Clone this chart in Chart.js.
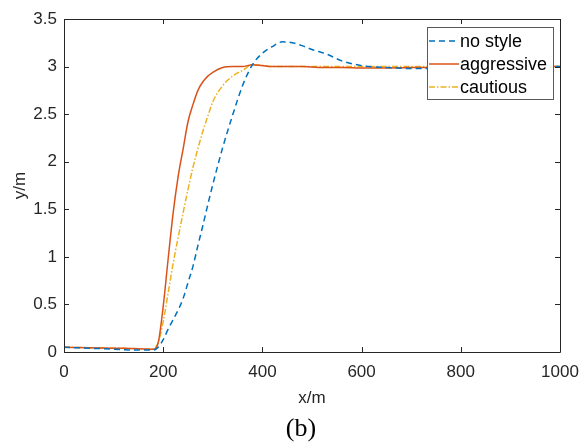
<!DOCTYPE html>
<html>
<head>
<meta charset="utf-8">
<script src="https://cdn.jsdelivr.net/npm/chart.js@4"></script>
<style>
  html, body { margin: 0; padding: 0; background: #fff; }
</style>
</head>
<body>
<canvas id="chartContainer" width="582" height="443"></canvas>
<script>
// x positions (m) shared by all three runs
var xs = [0, 50, 100, 150, 180, 190, 200, 210, 220, 230, 240, 250, 260, 270, 280, 290, 300, 320, 340, 360, 380, 400, 420, 440, 460, 480, 500, 530, 560, 600, 650, 700, 750, 800, 850, 900, 950, 1000];

var noStyle    = [0.05, 0.04, 0.03, 0.02, 0.02, 0.05, 0.13, 0.24, 0.34, 0.44, 0.56, 0.73, 0.9, 1.12, 1.33, 1.55, 1.76, 2.15, 2.49, 2.8, 3.02, 3.14, 3.21, 3.26, 3.25, 3.22, 3.18, 3.13, 3.06, 3.01, 2.99, 2.98, 2.98, 2.99, 3.0, 3.0, 3.0, 3.0];
var aggressive = [0.05, 0.045, 0.04, 0.035, 0.03, 0.1, 0.48, 0.98, 1.46, 1.84, 2.13, 2.42, 2.6, 2.75, 2.84, 2.9, 2.94, 2.99, 3.0, 3.0, 3.02, 3.01, 3.0, 3.0, 3.0, 3.0, 2.995, 2.99, 2.99, 2.985, 2.985, 2.99, 2.99, 3.0, 3.0, 3.0, 3.0, 3.0];
var cautious   = [0.05, 0.045, 0.04, 0.035, 0.03, 0.1, 0.32, 0.62, 0.93, 1.2, 1.46, 1.71, 1.94, 2.14, 2.32, 2.48, 2.63, 2.8, 2.9, 2.96, 3.02, 3.01, 3.0, 3.0, 3.0, 3.0, 3.0, 3.0, 3.0, 3.0, 3.0, 3.0, 3.0, 3.0, 3.0, 3.0, 3.0, 3.0];

var xTicks = [0, 200, 400, 600, 800, 1000];
var yTicks = [0, 0.5, 1, 1.5, 2, 2.5, 3, 3.5];

var labelFont = '"Liberation Sans", Arial, sans-serif';
var ink = '#262626';

function pts(ys) {
    return xs.map(function (x, i) { return { x: x, y: ys[i] }; });
}

// box, inward ticks, axis titles, caption and legend (MATLAB look)
var matlabFrame = {
    id: 'matlabFrame',
    afterDatasetsDraw: function (chart) {
        var c = chart.ctx, a = chart.chartArea;
        var sx = chart.scales.x, sy = chart.scales.y;
        c.save();
        c.strokeStyle = ink;
        c.lineWidth = 1;
        c.beginPath();
        c.rect(Math.round(a.left) + 0.5, Math.round(a.top) + 0.5, Math.round(a.right - a.left), Math.round(a.bottom - a.top));
        c.stroke();
        c.beginPath();
        xTicks.forEach(function (v) {
            var px = Math.round(sx.getPixelForValue(v)) + 0.5;
            c.moveTo(px, a.bottom); c.lineTo(px, a.bottom - 5);
            c.moveTo(px, a.top); c.lineTo(px, a.top + 5);
        });
        yTicks.forEach(function (v) {
            var py = Math.round(sy.getPixelForValue(v)) + 0.5;
            c.moveTo(a.left, py); c.lineTo(a.left + 5, py);
            c.moveTo(a.right, py); c.lineTo(a.right - 5, py);
        });
        c.stroke();

        // axis titles
        c.fillStyle = ink;
        c.font = '17px ' + labelFont;
        c.textAlign = 'center';
        c.textBaseline = 'middle';
        c.fillText('x/m', (a.left + a.right) / 2, 398);
        c.save();
        c.translate(20, (a.top + a.bottom) / 2);
        c.rotate(-Math.PI / 2);
        c.fillText('y/m', 0, 0);
        c.restore();

        // caption
        c.fillStyle = '#000';
        c.font = '26px "Liberation Serif", "Times New Roman", serif';
        c.fillText('(b)', 301, 429);

        // legend
        var lx = 427, ly = 27, lw = 126, lh = 72;
        c.fillStyle = '#fff';
        c.fillRect(lx, ly, lw, lh);
        c.strokeStyle = '#5a5a5a';
        c.strokeRect(lx + 0.5, ly + 0.5, lw, lh);
        var rowY = [41, 64, 87];
        chart.data.datasets.forEach(function (ds, i) {
            c.strokeStyle = ds.borderColor;
            c.lineWidth = ds.borderWidth;
            c.setLineDash(ds.borderDash || []);
            c.beginPath();
            c.moveTo(429, rowY[i]);
            c.lineTo(459, rowY[i]);
            c.stroke();
            c.setLineDash([]);
            c.fillStyle = '#000';
            c.font = '18px ' + labelFont;
            c.textAlign = 'left';
            c.fillText(ds.label, 460, rowY[i] + 1);
        });
        c.restore();
    }
};

function noPad(s) {
    s.paddingLeft = 0; s.paddingRight = 0; s.paddingTop = 0; s.paddingBottom = 0;
}

var ctx = document.getElementById('chartContainer').getContext('2d');
var chart = new Chart(ctx, {
    type: 'line',
    data: {
        datasets: [{
            label: 'no style',
            data: pts(noStyle),
            borderColor: '#0072BD',
            borderWidth: 1.5,
            borderDash: [6, 4],
            pointRadius: 0,
            cubicInterpolationMode: 'monotone',
            fill: false
        }, {
            label: 'aggressive',
            data: pts(aggressive),
            borderColor: '#D95319',
            borderWidth: 1.5,
            pointRadius: 0,
            cubicInterpolationMode: 'monotone',
            fill: false
        }, {
            label: 'cautious',
            data: pts(cautious),
            borderColor: '#EDB120',
            borderWidth: 1.5,
            borderDash: [6, 2, 1.5, 2],
            pointRadius: 0,
            cubicInterpolationMode: 'monotone',
            fill: false
        }]
    },
    options: {
        responsive: false,
        animation: false,
        layout: { padding: { left: 0, top: 19, right: 22, bottom: 0 } },
        plugins: { legend: { display: false }, tooltip: { enabled: false } },
        scales: {
            x: {
                type: 'linear',
                min: 0, max: 1000,
                grid: { display: false, drawTicks: false, tickLength: 0 },
                border: { display: false },
                afterBuildTicks: function (s) { s.ticks = xTicks.map(function (v) { return { value: v }; }); },
                afterFit: function (s) { s.height = 91; noPad(s); },
                ticks: {
                    color: ink, font: { family: labelFont, size: 17 }, padding: 10, maxRotation: 0,
                    callback: function (v) { return String(v); }
                }
            },
            y: {
                type: 'linear',
                min: 0, max: 3.5,
                grid: { display: false, drawTicks: false, tickLength: 0 },
                border: { display: false },
                afterBuildTicks: function (s) { s.ticks = yTicks.map(function (v) { return { value: v }; }); },
                afterFit: function (s) { s.width = 64; noPad(s); },
                ticks: {
                    color: ink, font: { family: labelFont, size: 17 }, padding: 7,
                    callback: function (v) { return String(v); }
                }
            }
        }
    },
    plugins: [matlabFrame]
});
</script>
</body>
</html>
